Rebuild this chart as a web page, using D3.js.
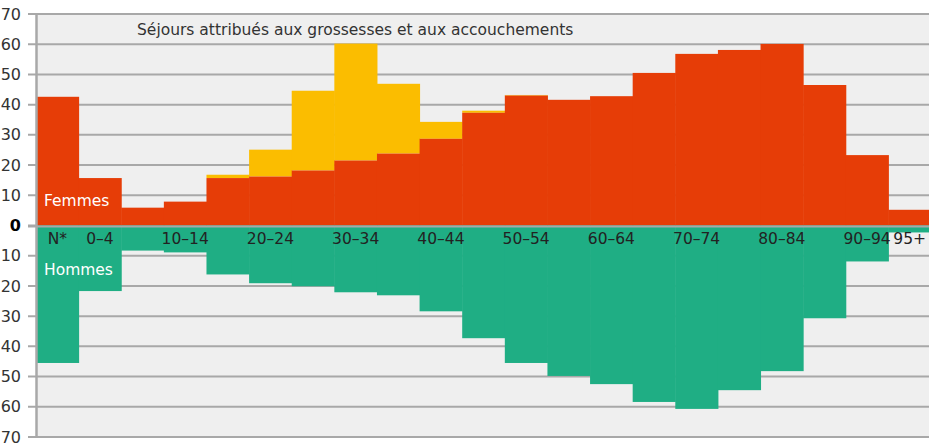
<!DOCTYPE html>
<html>
<head>
<meta charset="utf-8">
<script src="https://cdn.jsdelivr.net/npm/d3@7"></script>
<style>
  body { margin: 0; background: #fff; }
  svg { display: block; font-family: "DejaVu Sans", sans-serif; }
</style>
</head>
<body>
<svg id="chart"></svg>
<script>
// age groups (N* = non renseigné)
const categories = ["N*", "0–4", "5–9", "10–14", "15–19", "20–24", "25–29", "30–34", "35–39", "40–44",
  "45–49", "50–54", "55–59", "60–64", "65–69", "70–74", "75–79", "80–84", "85–89", "90–94", "95+"];

const tickLabels = ["N*", "0–4", "10–14", "20–24", "30–34", "40–44", "50–54", "60–64", "70–74", "80–84", "90–94", "95+"];

// femmes, hors grossesses
const femmes = [42.6, 15.7, 5.9, 7.9, 15.7, 16.2, 18.2, 21.5, 23.8, 28.7, 37.3, 43.0, 41.6, 42.8, 50.5, 56.8, 58.1, 60.1, 46.5, 23.3, 5.2];

// séjours attribués aux grossesses et aux accouchements (empilés sur femmes)
const grossesses = [0, 0, 0, 0, 1.1, 8.9, 26.4, 38.7, 23.1, 5.6, 0.7, 0.2, 0, 0, 0, 0, 0, 0, 0, 0, 0];

// hommes (vers le bas)
const hommes = [45.5, 21.7, 8.3, 8.9, 16.2, 19.1, 20.1, 22.1, 23.1, 28.4, 37.3, 45.5, 49.8, 52.5, 58.4, 60.7, 54.5, 48.2, 30.7, 11.9, 2.3];

const yTicks = [-70, -60, -50, -40, -30, -20, -10, 0, 10, 20, 30, 40, 50, 60, 70];

const colors = {
  femmes: "#e63d07",
  grossesses: "#fbbd00",
  hommes: "#1fae84",
  grid: "#a8a8a8",
  bg: "#efefef"
};

const width = 929;
const height = 446;
const marginTop = 14;
const marginBottom = 9;
const marginLeft = 36;

const x = d3.scaleBand(categories, [marginLeft, marginLeft + 42.62 * categories.length]).padding(0);
const y = d3.scaleLinear([-70, 70], [height - marginBottom, marginTop]);

const svg = d3.select("svg#chart")
  .attr("width", width)
  .attr("height", height)
  .attr("viewBox", [0, 0, width, height]);

// plot background
svg.append("rect")
  .attr("x", marginLeft)
  .attr("y", y(70))
  .attr("width", width - marginLeft)
  .attr("height", y(-70) - y(70))
  .attr("fill", colors.bg);

// grid lines
svg.append("g")
  .selectAll("line")
  .data(yTicks)
  .join("line")
  .attr("x1", marginLeft - 8)
  .attr("x2", width)
  .attr("y1", d => y(d))
  .attr("y2", d => y(d))
  .attr("stroke", colors.grid)
  .attr("stroke-width", 2);

const rows = categories.map((c, i) => ({
  cat: c,
  f: femmes[i],
  g: grossesses[i],
  h: hommes[i]
}));

// bars
svg.append("g")
  .selectAll("rect")
  .data(rows)
  .join("rect")
  .attr("x", d => x(d.cat))
  .attr("width", x.bandwidth() + 0.5)
  .attr("y", d => y(d.f + d.g))
  .attr("height", d => y(d.f) - y(d.f + d.g))
  .attr("fill", colors.grossesses);

svg.append("g")
  .selectAll("rect")
  .data(rows)
  .join("rect")
  .attr("x", d => x(d.cat))
  .attr("width", x.bandwidth() + 0.5)
  .attr("y", d => y(d.f))
  .attr("height", d => y(0) - y(d.f))
  .attr("fill", colors.femmes);

svg.append("g")
  .selectAll("rect")
  .data(rows)
  .join("rect")
  .attr("x", d => x(d.cat))
  .attr("width", x.bandwidth() + 0.5)
  .attr("y", y(0))
  .attr("height", d => y(-d.h) - y(0))
  .attr("fill", colors.hommes);

// zero line
svg.append("line")
  .attr("x1", marginLeft - 8)
  .attr("x2", width)
  .attr("y1", y(0) + 1)
  .attr("y2", y(0) + 1)
  .attr("stroke", colors.grid)
  .attr("stroke-width", 2);

// y axis
svg.append("g")
  .attr("transform", `translate(${marginLeft},0)`)
  .call(d3.axisLeft(y).tickValues(yTicks).tickSize(0).tickPadding(15).tickFormat(d => Math.abs(d)))
  .call(g => g.select(".domain").attr("stroke", colors.grid).attr("stroke-width", 2.5))
  .call(g => g.selectAll(".tick text")
    .attr("font-size", 16)
    .attr("font-family", "DejaVu Sans, sans-serif")
    .attr("fill", d => d === 0 ? "#000" : "#333")
    .attr("font-weight", d => d === 0 ? "bold" : "normal"));

// x labels, along the zero line
svg.append("g")
  .attr("transform", `translate(0,${y(0)})`)
  .call(d3.axisBottom(x).tickValues(tickLabels).tickSize(0).tickPadding(7))
  .call(g => g.select(".domain").remove())
  .call(g => g.selectAll(".tick text")
    .attr("font-size", 15.5)
    .attr("font-family", "DejaVu Sans, sans-serif")
    .attr("fill", "#222"));

// title and series names
svg.append("text")
  .attr("x", 137)
  .attr("y", 35)
  .attr("font-size", 15.5)
  .attr("fill", "#333")
  .text("Séjours attribués aux grossesses et aux accouchements");

svg.append("text")
  .attr("x", 44)
  .attr("y", 206)
  .attr("font-size", 15.5)
  .attr("fill", "#fff")
  .text("Femmes");

svg.append("text")
  .attr("x", 44)
  .attr("y", 275)
  .attr("font-size", 15.5)
  .attr("fill", "#fff")
  .text("Hommes");
</script>
</body>
</html>
